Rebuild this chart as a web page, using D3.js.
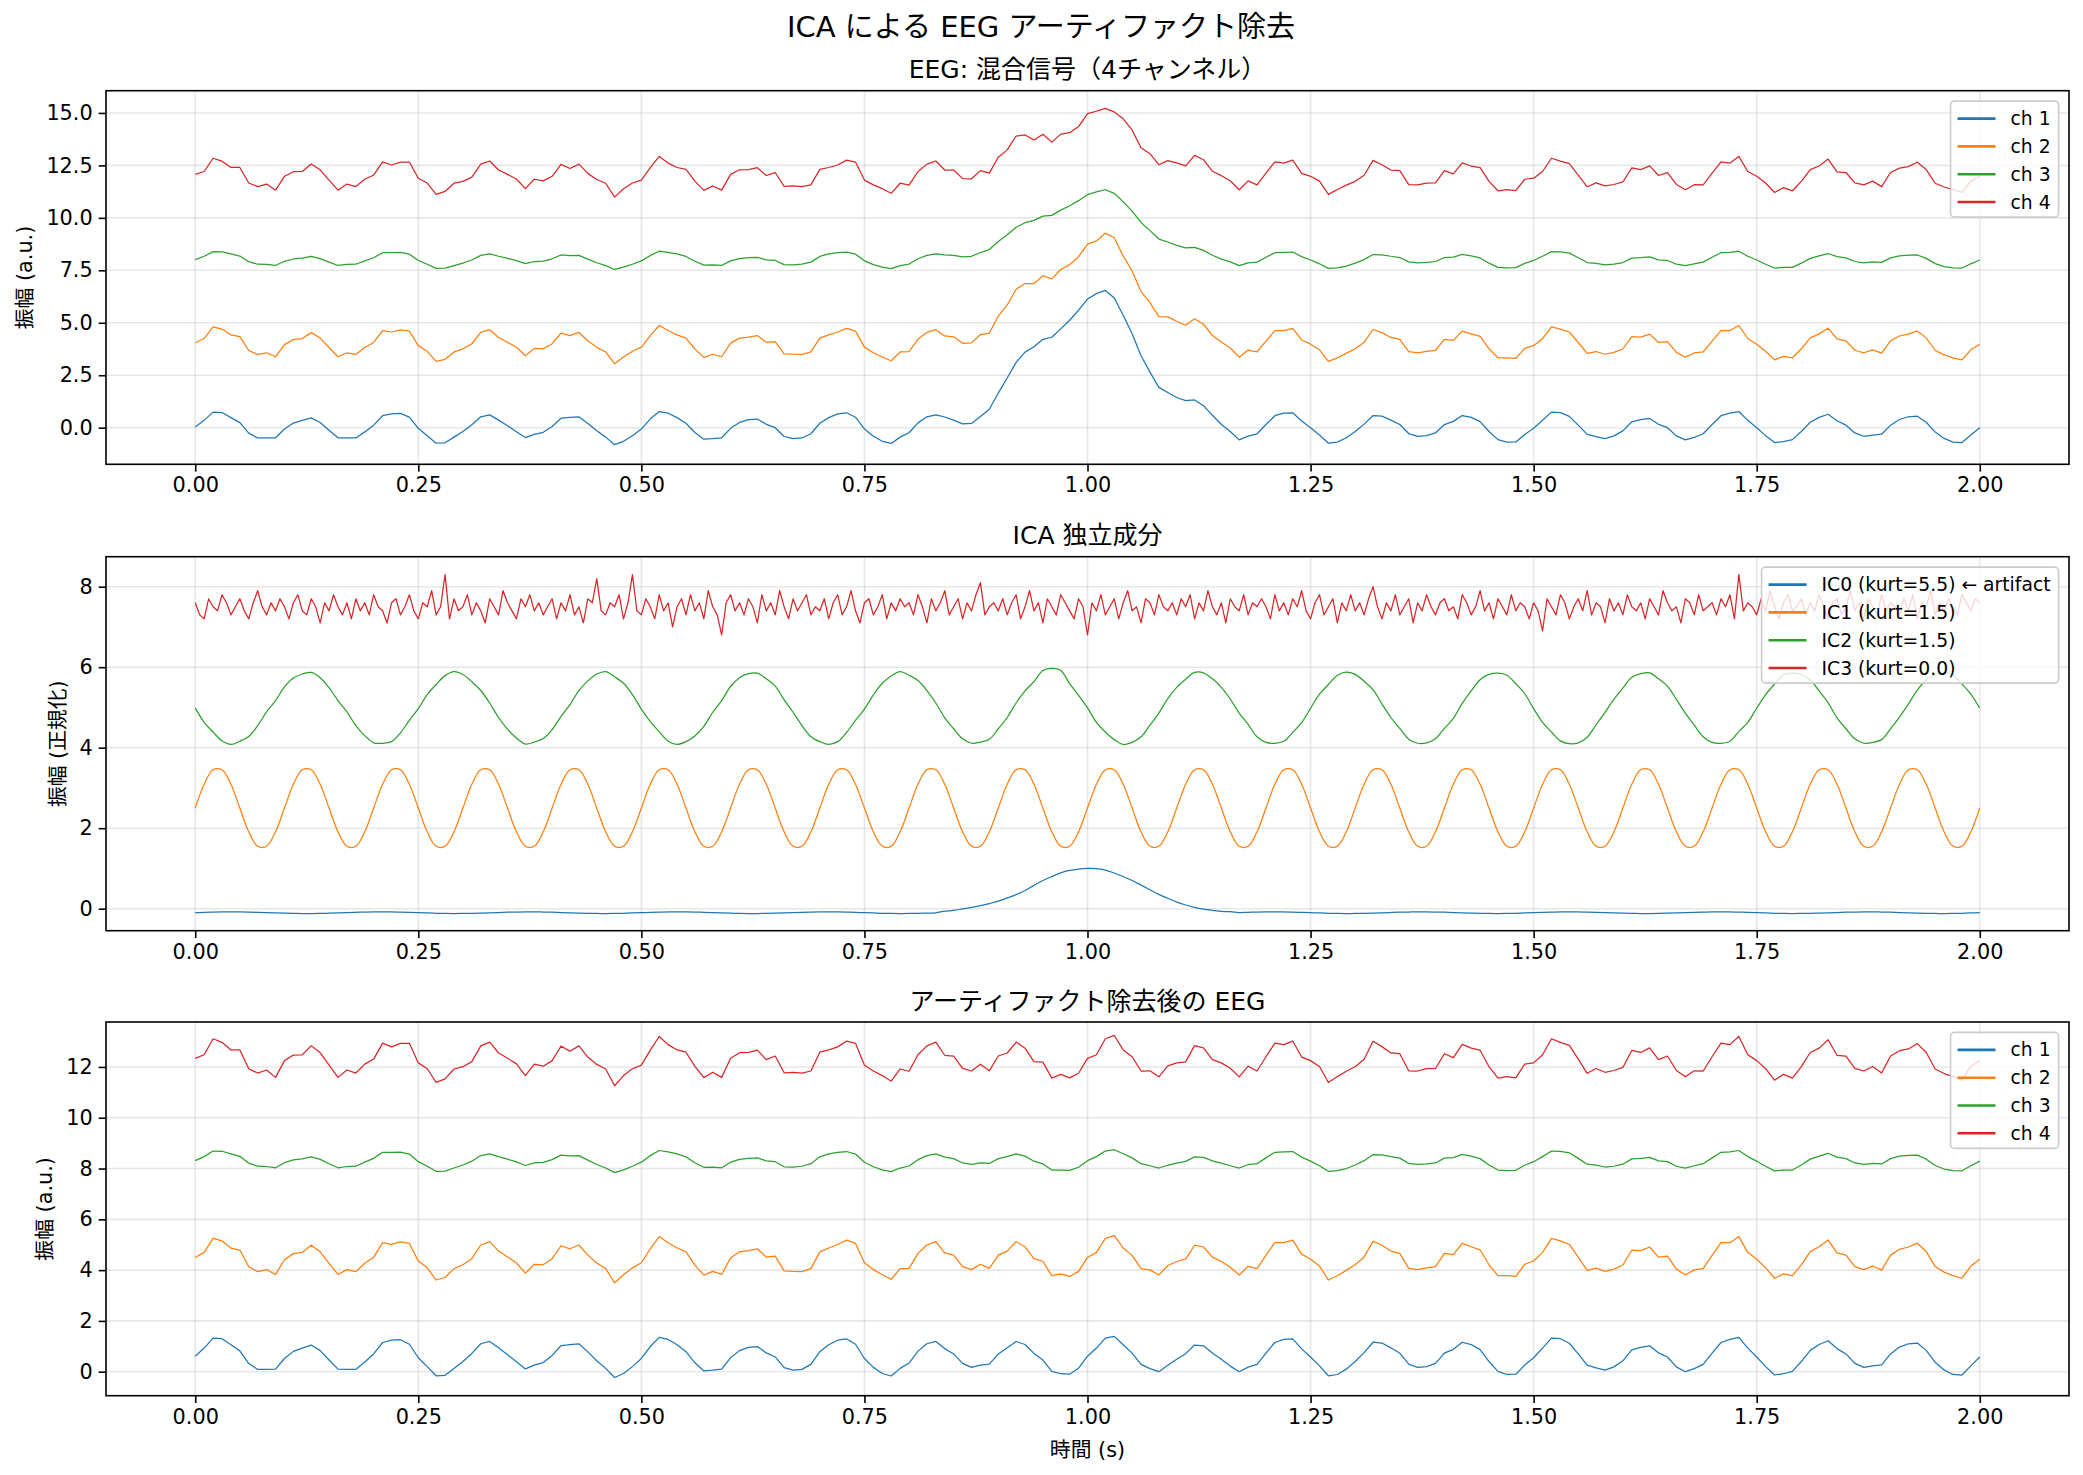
<!DOCTYPE html>
<html><head><meta charset="utf-8">
<script src="https://cdn.jsdelivr.net/npm/d3@7"></script>
<style>
body{margin:0;background:#fff}
svg{display:block}
text{font-family:"DejaVu Sans","Noto Sans CJK JP",sans-serif}
</style>
</head><body>
<svg id="chart" width="2083" height="1475"></svg>
<script>
// ---------------- data (sampling step 0.01 s, t = 0 ... 2.00) ----------------
const dt = 0.01;
const dtIC3 = 0.005;

const rawCh1 = [
.03,.35,.74,.72,.48,.24,-.26,-.49,-.49,-.48,
-.06,.22,.35,.47,.25,-.12,-.48,-.49,-.49,-.20,
.12,.57,.66,.68,.50,-.03,-.38,-.74,-.72,-.45,
-.18,.14,.52,.61,.36,.09,-.19,-.47,-.32,-.22,
.06,.45,.49,.52,.20,-.15,-.45,-.81,-.65,-.38,
-.06,.41,.77,.69,.48,.21,-.23,-.55,-.52,-.48,
-.03,.25,.38,.41,.16,0,-.42,-.52,-.49,-.29,
.21,.48,.66,.71,.50,-.06,-.41,-.65,-.75,-.45,
-.24,.23,.52,.61,.51,.36,.18,.20,.53,.88,
1.65,2.37,3.11,3.60,3.86,4.21,4.31,4.71,5.12,5.60,
6.13,6.39,6.54,6.18,5.36,4.48,3.43,2.65,1.92,1.68,
1.44,1.29,1.32,1.05,.59,.15,-.18,-.58,-.40,-.29,
.15,.57,.69,.71,.32,0,-.35,-.74,-.69,-.48,
-.18,.17,.58,.55,.36,.15,-.28,-.41,-.38,-.25,
.15,.30,.58,.49,.29,-.18,-.57,-.69,-.68,-.32,
-.03,.35,.74,.72,.54,.12,-.32,-.43,-.52,-.39,
-.15,.28,.38,.44,.16,0,-.39,-.58,-.46,-.29,
.15,.57,.69,.77,.35,0,-.38,-.71,-.66,-.57,
-.18,.26,.49,.64,.33,.12,-.25,-.41,-.35,-.31,
.12,.39,.52,.55,.26,-.21,-.51,-.69,-.71,-.35,
0];

const rawCh2 = [
4.05,4.25,4.80,4.70,4.42,4.34,3.68,3.49,3.57,3.38,
3.96,4.20,4.25,4.53,4.27,3.82,3.38,3.57,3.49,3.82,
4.06,4.63,4.56,4.66,4.60,3.91,3.64,3.16,3.26,3.61,
3.76,4.00,4.54,4.67,4.30,4.07,3.83,3.43,3.78,3.76,
4.00,4.51,4.39,4.54,4.14,3.83,3.61,3.05,3.37,3.64,
3.84,4.39,4.87,4.63,4.42,4.27,3.75,3.35,3.50,3.38,
4.03,4.27,4.32,4.39,4.06,4.10,3.52,3.50,3.49,3.61,
4.27,4.42,4.56,4.73,4.60,3.84,3.57,3.37,3.19,3.61,
3.62,4.21,4.54,4.67,4.37,4.33,4.02,4.04,4.44,4.51,
5.32,5.85,6.60,6.87,6.87,7.24,7.09,7.54,7.77,8.15,
8.75,8.90,9.27,9.05,8.18,7.47,6.48,5.96,5.29,5.28,
5.07,4.88,5.19,4.93,4.39,4.08,3.80,3.36,3.70,3.61,
4.13,4.63,4.63,4.73,4.18,3.98,3.71,3.16,3.33,3.54,
3.76,4.07,4.68,4.53,4.30,4.21,3.62,3.57,3.64,3.69,
4.21,4.16,4.60,4.47,4.35,3.76,3.33,3.33,3.30,3.78,
3.91,4.25,4.80,4.70,4.56,4.06,3.54,3.63,3.50,3.59,
3.75,4.34,4.32,4.46,4.06,4.10,3.59,3.36,3.56,3.61,
4.13,4.63,4.63,4.87,4.25,3.98,3.64,3.23,3.40,3.33,
3.76,4.28,4.47,4.74,4.23,4.14,3.69,3.57,3.71,3.55,
4.14,4.37,4.46,4.61,4.28,3.69,3.47,3.33,3.23,3.71,
3.98];

const rawCh3 = [
8.01,8.17,8.39,8.38,8.28,8.18,7.91,7.79,7.78,7.73,
7.93,8.04,8.08,8.16,8.06,7.89,7.73,7.78,7.79,7.95,
8.10,8.34,8.34,8.35,8.27,7.97,7.79,7.59,7.60,7.72,
7.84,7.99,8.21,8.28,8.17,8.07,7.96,7.82,7.92,7.94,
8.05,8.23,8.20,8.21,8.03,7.86,7.72,7.54,7.65,7.79,
7.95,8.21,8.41,8.36,8.28,8.16,7.93,7.75,7.76,7.73,
7.95,8.06,8.10,8.12,8.00,7.97,7.77,7.76,7.79,7.89,
8.16,8.28,8.34,8.37,8.27,7.95,7.77,7.65,7.58,7.72,
7.80,8.05,8.21,8.28,8.24,8.21,8.14,8.17,8.35,8.49,
8.87,9.19,9.55,9.77,9.88,10.08,10.12,10.37,10.58,10.82,
11.11,11.24,11.34,11.17,10.76,10.32,9.78,9.39,8.99,8.85,
8.69,8.57,8.59,8.45,8.22,8.03,7.90,7.72,7.85,7.89,
8.12,8.34,8.36,8.37,8.15,7.99,7.81,7.59,7.62,7.70,
7.84,8.01,8.25,8.24,8.17,8.11,7.90,7.86,7.88,7.92,
8.11,8.13,8.26,8.19,8.09,7.84,7.64,7.62,7.63,7.83,
7.97,8.17,8.39,8.38,8.32,8.10,7.87,7.83,7.76,7.79,
7.87,8.08,8.10,8.14,8.00,7.97,7.79,7.72,7.81,7.89,
8.12,8.34,8.36,8.41,8.17,7.99,7.79,7.61,7.64,7.64,
7.84,8.07,8.19,8.30,8.15,8.09,7.92,7.86,7.90,7.88,
8.09,8.19,8.22,8.23,8.07,7.82,7.68,7.62,7.61,7.81,
7.99];

const rawCh4 = [
12.07,12.21,12.84,12.70,12.40,12.40,11.66,11.49,11.61,11.32,
11.98,12.20,12.21,12.57,12.29,11.80,11.32,11.61,11.49,11.84,
12.04,12.67,12.52,12.66,12.66,11.89,11.66,11.12,11.26,11.65,
11.74,11.94,12.56,12.71,12.28,12.07,11.85,11.39,11.84,11.76,
11.98,12.55,12.35,12.56,12.12,11.83,11.65,10.99,11.39,11.66,
11.80,12.39,12.93,12.61,12.40,12.31,11.75,11.31,11.52,11.32,
12.07,12.29,12.30,12.39,12.02,12.16,11.50,11.52,11.49,11.57,
12.31,12.40,12.52,12.75,12.66,11.80,11.57,11.39,11.17,11.65,
11.56,12.21,12.56,12.71,12.28,12.28,11.87,11.86,12.25,12.13,
12.89,13.24,13.90,13.95,13.71,13.98,13.61,13.99,14.06,14.35,
14.97,15.08,15.22,15.05,14.72,14.19,13.34,13.06,12.53,12.73,
12.62,12.48,12.98,12.77,12.22,12.01,11.77,11.34,11.76,11.57,
12.13,12.67,12.61,12.75,12.12,11.98,11.75,11.12,11.35,11.56,
11.74,12.03,12.74,12.53,12.28,12.25,11.58,11.57,11.66,11.67,
12.25,12.10,12.62,12.47,12.39,11.74,11.29,11.35,11.30,11.84,
11.89,12.21,12.84,12.70,12.58,12.04,11.48,11.67,11.52,11.59,
11.71,12.38,12.30,12.48,12.02,12.16,11.59,11.34,11.58,11.57,
12.13,12.67,12.61,12.93,12.21,11.98,11.66,11.21,11.44,11.29,
11.74,12.30,12.47,12.80,12.19,12.16,11.67,11.57,11.75,11.49,
12.16,12.37,12.44,12.65,12.30,11.65,11.47,11.35,11.21,11.75,
11.98];

const ic0 = [
-.100,-.093,-.086,-.082,-.080,-.081,-.085,-.090,-.097,-.105,
-.112,-.117,-.120,-.120,-.117,-.112,-.105,-.097,-.090,-.085,
-.081,-.080,-.082,-.086,-.093,-.100,-.107,-.114,-.118,-.120,
-.119,-.115,-.110,-.103,-.095,-.088,-.083,-.080,-.080,-.083,
-.088,-.095,-.103,-.110,-.115,-.119,-.120,-.118,-.114,-.107,
-.100,-.093,-.086,-.082,-.080,-.081,-.085,-.090,-.097,-.105,
-.112,-.117,-.120,-.120,-.117,-.112,-.105,-.097,-.090,-.085,
-.081,-.080,-.082,-.086,-.093,-.100,-.107,-.114,-.118,-.120,
-.119,-.115,-.110,-.103,-.062,-.044,-.006,.030,.074,.126,
.187,.268,.348,.451,.580,.700,.800,.890,.950,.982,
1.000,.996,.959,.886,.800,.700,.586,.471,.354,.258,
.163,.092,.034,-.010,-.040,-.068,-.072,-.097,-.090,-.085,
-.081,-.080,-.082,-.086,-.093,-.100,-.107,-.114,-.118,-.120,
-.119,-.115,-.110,-.103,-.095,-.088,-.083,-.080,-.080,-.083,
-.088,-.095,-.103,-.110,-.115,-.119,-.120,-.118,-.114,-.107,
-.100,-.093,-.086,-.082,-.080,-.081,-.085,-.090,-.097,-.105,
-.112,-.117,-.120,-.120,-.117,-.112,-.105,-.097,-.090,-.085,
-.081,-.080,-.082,-.086,-.093,-.100,-.107,-.114,-.118,-.120,
-.119,-.115,-.110,-.103,-.095,-.088,-.083,-.080,-.080,-.083,
-.088,-.095,-.103,-.110,-.115,-.119,-.120,-.118,-.114,-.107,
-.100];

const ic1 = [
2.5,3.09,3.45,3.45,3.09,2.5,1.91,1.55,1.55,1.91,
2.5,3.09,3.45,3.45,3.09,2.5,1.91,1.55,1.55,1.91,
2.5,3.09,3.45,3.45,3.09,2.5,1.91,1.55,1.55,1.91,
2.5,3.09,3.45,3.45,3.09,2.5,1.91,1.55,1.55,1.91,
2.5,3.09,3.45,3.45,3.09,2.5,1.91,1.55,1.55,1.91,
2.5,3.09,3.45,3.45,3.09,2.5,1.91,1.55,1.55,1.91,
2.5,3.09,3.45,3.45,3.09,2.5,1.91,1.55,1.55,1.91,
2.5,3.09,3.45,3.45,3.09,2.5,1.91,1.55,1.55,1.91,
2.5,3.09,3.45,3.45,3.09,2.5,1.91,1.55,1.55,1.91,
2.5,3.09,3.45,3.45,3.09,2.5,1.91,1.55,1.55,1.91,
2.5,3.09,3.45,3.45,3.09,2.5,1.91,1.55,1.55,1.91,
2.5,3.09,3.45,3.45,3.09,2.5,1.91,1.55,1.55,1.91,
2.5,3.09,3.45,3.45,3.09,2.5,1.91,1.55,1.55,1.91,
2.5,3.09,3.45,3.45,3.09,2.5,1.91,1.55,1.55,1.91,
2.5,3.09,3.45,3.45,3.09,2.5,1.91,1.55,1.55,1.91,
2.5,3.09,3.45,3.45,3.09,2.5,1.91,1.55,1.55,1.91,
2.5,3.09,3.45,3.45,3.09,2.5,1.91,1.55,1.55,1.91,
2.5,3.09,3.45,3.45,3.09,2.5,1.91,1.55,1.55,1.91,
2.5,3.09,3.45,3.45,3.09,2.5,1.91,1.55,1.55,1.91,
2.5,3.09,3.45,3.45,3.09,2.5,1.91,1.55,1.55,1.91,
2.5];

const ic2 = [
4.99,4.63,4.39,4.17,4.08,4.16,4.28,4.55,4.89,5.17,
5.51,5.73,5.83,5.87,5.74,5.49,5.17,4.89,4.55,4.30,
4.12,4.11,4.15,4.37,4.68,4.97,5.32,5.57,5.79,5.89,
5.82,5.64,5.42,5.11,4.75,4.46,4.24,4.09,4.14,4.23,
4.45,4.78,5.07,5.42,5.66,5.83,5.89,5.76,5.60,5.32,
4.96,4.65,4.40,4.16,4.08,4.15,4.29,4.53,4.88,5.17,
5.52,5.74,5.84,5.85,5.71,5.53,5.19,4.88,4.55,4.27,
4.15,4.08,4.15,4.38,4.68,4.96,5.31,5.60,5.78,5.89,
5.80,5.67,5.42,5.11,4.74,4.47,4.22,4.11,4.14,4.21,
4.47,4.75,5.11,5.41,5.64,5.92,5.97,5.92,5.59,5.30,
4.99,4.63,4.39,4.20,4.08,4.13,4.27,4.56,4.86,5.22,
5.50,5.70,5.87,5.86,5.71,5.50,5.21,4.86,4.58,4.27,
4.13,4.11,4.16,4.38,4.62,4.98,5.33,5.57,5.80,5.88,
5.82,5.65,5.44,5.09,4.75,4.48,4.21,4.11,4.12,4.22,
4.48,4.73,5.10,5.41,5.69,5.82,5.85,5.80,5.59,5.34,
4.97,4.63,4.39,4.17,4.10,4.12,4.26,4.57,4.88,5.20,
5.48,5.75,5.84,5.86,5.71,5.53,5.20,4.86,4.56,4.27,
4.13,4.11,4.16,4.40,4.63,4.98,5.32,5.58,5.81,5.85,
5.82,5.68,5.41,5.12,4.74,4.47,4.22,4.11,4.13,4.20,
4.47,4.76,5.08,5.43,5.68,5.81,5.87,5.80,5.58,5.33,
4.98];

// IC3 is sampled at 0.005 s (401 points)
const ic3 = [
7.6,7.3,7.2,7.7,7.5,7.4,7.8,7.6,7.3,7.5,7.7,7.4,7.2,7.6,7.9,7.5,7.3,7.6,7.4,7.7,
7.5,7.2,7.6,7.8,7.4,7.3,7.7,7.5,7.1,7.6,7.4,7.8,7.5,7.3,7.6,7.2,7.7,7.4,7.6,7.3,
7.8,7.5,7.4,7.1,7.6,7.7,7.3,7.5,7.8,7.4,7.2,7.6,7.5,7.9,7.3,7.5,8.3,7.2,7.7,7.4,
7.5,7.8,7.3,7.6,7.4,7.1,7.7,7.5,7.3,7.9,7.6,7.4,7.2,7.7,7.5,7.8,7.4,7.6,7.3,7.5,
7.7,7.2,7.6,7.4,7.8,7.3,7.5,7.1,7.7,7.6,8.2,7.4,7.3,7.6,7.5,7.8,7.2,7.6,8.3,7.4,
7.3,7.7,7.5,7.2,7.8,7.4,7.6,7.0,7.5,7.7,7.3,7.8,7.4,7.6,7.2,7.9,7.5,7.3,6.8,7.6,
7.8,7.4,7.6,7.3,7.7,7.5,7.1,7.8,7.4,7.6,7.3,7.9,7.5,7.2,7.7,7.4,7.6,7.8,7.3,7.5,
7.4,7.7,7.2,7.6,7.8,7.3,7.5,7.9,7.4,7.1,7.6,7.7,7.3,7.5,7.8,7.2,7.6,7.4,7.7,7.5,
7.6,7.3,7.8,7.5,7.1,7.7,7.4,7.6,7.9,7.3,7.5,7.7,7.2,7.6,7.4,7.8,8.1,7.3,7.5,7.6,
7.4,7.7,7.3,7.6,7.8,7.2,7.5,7.9,7.4,7.6,7.1,7.7,7.5,7.3,7.8,7.6,7.4,7.2,7.7,7.5,
6.8,7.6,7.4,7.8,7.3,7.5,7.7,7.2,7.6,7.9,7.4,7.5,7.1,7.7,7.6,7.3,7.8,7.5,7.4,7.6,
7.3,7.7,7.5,7.8,7.2,7.6,7.4,7.9,7.5,7.3,7.6,7.1,7.7,7.5,7.4,7.8,7.3,7.6,7.5,7.7,
7.5,7.2,7.8,7.4,7.6,7.3,7.7,7.5,7.9,7.4,7.2,7.6,7.8,7.3,7.5,7.7,7.1,7.6,7.4,7.8,
7.4,7.6,7.3,7.7,8.0,7.5,7.2,7.6,7.4,7.8,7.3,7.5,7.7,7.1,7.6,7.4,7.8,7.5,7.3,7.6,
7.7,7.4,7.5,7.2,7.8,7.6,7.3,7.5,7.9,7.4,7.6,7.2,7.7,7.5,7.3,7.8,7.4,7.6,7.5,7.2,
7.6,7.4,6.9,7.7,7.5,7.3,7.8,7.6,7.2,7.5,7.7,7.4,7.9,7.3,7.6,7.5,7.1,7.7,7.4,7.6,
7.3,7.8,7.5,7.4,7.6,7.2,7.7,7.5,7.3,7.9,7.6,7.4,7.5,7.1,7.7,7.6,7.3,7.8,7.4,7.5,
7.6,7.3,7.7,7.5,7.8,7.2,8.3,7.4,7.6,7.5,7.3,7.7,7.4,7.9,7.5,7.2,7.6,7.8,7.4,7.5,
7.7,7.3,7.6,7.4,7.8,7.5,7.2,7.6,7.7,7.3,7.5,7.9,7.4,7.6,7.2,7.7,7.5,7.3,7.8,7.4,
7.6,7.5,7.3,7.7,7.4,7.8,7.2,7.6,7.5,7.9,7.3,7.6,7.4,7.7,7.5,7.3,7.8,7.6,7.4,7.7,
7.6];

const cleanCh1 = [
.61,.93,1.32,1.30,1.06,.82,.32,.09,.09,.10,
.52,.80,.93,1.05,.83,.46,.10,.09,.09,.38,
.70,1.15,1.24,1.26,1.08,.55,.20,-.16,-.14,.13,
.40,.72,1.10,1.19,.94,.67,.39,.11,.26,.36,
.64,1.03,1.07,1.10,.78,.43,.13,-.23,-.07,.20,
.52,.99,1.35,1.27,1.06,.79,.35,.03,.06,.10,
.55,.83,.96,.99,.74,.58,.16,.06,.09,.29,
.79,1.06,1.24,1.29,1.08,.52,.17,-.07,-.17,.13,
.34,.81,1.10,1.19,.91,.70,.33,.17,.26,.30,
.70,.94,1.19,1.07,.72,.46,.01,-.08,-.10,.14,
.61,.93,1.32,1.39,1.06,.73,.29,.12,0,.25,
.49,.71,1.05,1.02,.74,.49,.22,0,.18,.29,
.73,1.15,1.27,1.29,.90,.58,.23,-.16,-.11,.10,
.40,.75,1.16,1.13,.94,.73,.30,.17,.20,.33,
.73,.88,1.16,1.07,.87,.40,.01,-.11,-.10,.26,
.55,.93,1.32,1.30,1.12,.70,.26,.15,.06,.19,
.43,.86,.96,1.02,.74,.58,.19,0,.12,.29,
.73,1.15,1.27,1.35,.93,.58,.20,-.13,-.08,.01,
.40,.84,1.07,1.22,.91,.70,.33,.17,.23,.27,
.70,.97,1.10,1.13,.84,.37,.07,-.11,-.13,.23,
.58];

const cleanCh2 = [
4.50,4.70,5.25,5.15,4.87,4.79,4.13,3.94,4.02,3.83,
4.41,4.65,4.70,4.98,4.72,4.27,3.83,4.02,3.94,4.27,
4.51,5.08,5.01,5.11,5.05,4.36,4.09,3.61,3.71,4.06,
4.21,4.45,4.99,5.12,4.75,4.52,4.28,3.88,4.23,4.21,
4.45,4.96,4.84,4.99,4.59,4.28,4.06,3.50,3.82,4.09,
4.29,4.84,5.32,5.08,4.87,4.72,4.20,3.80,3.95,3.83,
4.48,4.72,4.77,4.84,4.51,4.55,3.97,3.95,3.94,4.06,
4.72,4.87,5.01,5.18,5.05,4.29,4.02,3.82,3.64,4.06,
4.07,4.66,4.99,5.12,4.68,4.59,4.14,4.02,4.23,4.07,
4.59,4.75,5.12,4.92,4.45,4.35,3.78,3.85,3.75,3.95,
4.50,4.70,5.25,5.36,4.87,4.58,4.06,4.01,3.81,4.18,
4.34,4.44,4.98,4.91,4.51,4.34,4.11,3.81,4.15,4.06,
4.58,5.08,5.08,5.18,4.63,4.43,4.16,3.61,3.78,3.99,
4.21,4.52,5.13,4.98,4.75,4.66,4.07,4.02,4.09,4.14,
4.66,4.61,5.05,4.92,4.80,4.21,3.78,3.78,3.75,4.23,
4.36,4.70,5.25,5.15,5.01,4.51,3.99,4.08,3.95,4.04,
4.20,4.79,4.77,4.91,4.51,4.55,4.04,3.81,4.01,4.06,
4.58,5.08,5.08,5.32,4.70,4.43,4.09,3.68,3.85,3.78,
4.21,4.73,4.92,5.19,4.68,4.59,4.14,4.02,4.16,4.00,
4.59,4.82,4.91,5.06,4.73,4.14,3.92,3.78,3.68,4.16,
4.43];

const cleanCh3 = [
8.31,8.47,8.69,8.68,8.58,8.48,8.21,8.09,8.08,8.03,
8.23,8.34,8.38,8.46,8.36,8.19,8.03,8.08,8.09,8.25,
8.40,8.64,8.64,8.65,8.57,8.27,8.09,7.89,7.90,8.02,
8.14,8.29,8.51,8.58,8.47,8.37,8.26,8.12,8.22,8.24,
8.35,8.53,8.50,8.51,8.33,8.16,8.02,7.84,7.95,8.09,
8.25,8.51,8.71,8.66,8.58,8.46,8.23,8.05,8.06,8.03,
8.25,8.36,8.40,8.42,8.30,8.27,8.07,8.06,8.09,8.19,
8.46,8.58,8.64,8.67,8.57,8.25,8.07,7.95,7.88,8.02,
8.10,8.35,8.51,8.58,8.45,8.39,8.22,8.16,8.22,8.20,
8.39,8.47,8.58,8.49,8.29,8.18,7.94,7.94,7.93,8.05,
8.31,8.47,8.69,8.74,8.58,8.42,8.19,8.11,8.02,8.13,
8.21,8.28,8.46,8.44,8.30,8.21,8.11,8.02,8.15,8.19,
8.42,8.64,8.66,8.67,8.45,8.29,8.11,7.89,7.92,8.00,
8.14,8.31,8.55,8.54,8.47,8.41,8.20,8.16,8.18,8.22,
8.41,8.43,8.56,8.49,8.39,8.14,7.94,7.92,7.93,8.13,
8.27,8.47,8.69,8.68,8.62,8.40,8.17,8.13,8.06,8.09,
8.17,8.38,8.40,8.44,8.30,8.27,8.09,8.02,8.11,8.19,
8.42,8.64,8.66,8.71,8.47,8.29,8.09,7.91,7.94,7.94,
8.14,8.37,8.49,8.60,8.45,8.39,8.22,8.16,8.20,8.18,
8.39,8.49,8.52,8.53,8.37,8.12,7.98,7.92,7.91,8.11,
8.29];

const cleanCh4 = [
12.34,12.48,13.11,12.97,12.67,12.67,11.93,11.76,11.88,11.59,
12.25,12.47,12.48,12.84,12.56,12.07,11.59,11.88,11.76,12.11,
12.31,12.94,12.79,12.93,12.93,12.16,11.93,11.39,11.53,11.92,
12.01,12.21,12.83,12.98,12.55,12.34,12.12,11.66,12.11,12.03,
12.25,12.82,12.62,12.83,12.39,12.10,11.92,11.26,11.66,11.93,
12.07,12.66,13.20,12.88,12.67,12.58,12.02,11.58,11.79,11.59,
12.34,12.56,12.57,12.66,12.29,12.43,11.77,11.79,11.76,11.84,
12.58,12.67,12.79,13.02,12.93,12.07,11.84,11.66,11.44,11.92,
11.83,12.48,12.83,12.98,12.46,12.43,11.94,11.84,12.11,11.85,
12.43,12.55,12.98,12.74,12.21,12.19,11.56,11.71,11.57,11.75,
12.34,12.48,13.11,13.24,12.67,12.40,11.84,11.85,11.61,12.04,
12.16,12.20,12.84,12.75,12.29,12.16,11.95,11.61,12.03,11.84,
12.40,12.94,12.88,13.02,12.39,12.25,12.02,11.39,11.62,11.83,
12.01,12.30,13.01,12.80,12.55,12.52,11.85,11.84,11.93,11.94,
12.52,12.37,12.89,12.74,12.66,12.01,11.56,11.62,11.57,12.11,
12.16,12.48,13.11,12.97,12.85,12.31,11.75,11.94,11.79,11.86,
11.98,12.65,12.57,12.75,12.29,12.43,11.86,11.61,11.85,11.84,
12.40,12.94,12.88,13.20,12.48,12.25,11.93,11.48,11.71,11.56,
12.01,12.57,12.74,13.07,12.46,12.43,11.94,11.84,12.02,11.76,
12.43,12.64,12.71,12.92,12.57,11.92,11.74,11.62,11.48,12.02,
12.25];

const chLabels = ["ch 1", "ch 2", "ch 3", "ch 4"];
const icLabels = ["IC0 (kurt=5.5) ← artifact", "IC1 (kurt=1.5)", "IC2 (kurt=1.5)", "IC3 (kurt=0.0)"];
const xTicks = [0, 0.25, 0.5, 0.75, 1.0, 1.25, 1.5, 1.75, 2.0];
const yTicksRaw = [0, 2.5, 5, 7.5, 10, 12.5, 15];
const yTicksIC = [0, 2, 4, 6, 8];
const yTicksClean = [0, 2, 4, 6, 8, 10, 12];
const colors = ["#1f77b4", "#ff7f0e", "#2ca02c", "#d62728"];
const suptitle = "ICA による EEG アーティファクト除去";
const titles = ["EEG: 混合信号（4チャンネル）", "ICA 独立成分", "アーティファクト除去後の EEG"];
const yLabels = ["振幅 (a.u.)", "振幅 (正規化)", "振幅 (a.u.)"];
const xLabel = "時間 (s)";

// ---------------- drawing ----------------
const svg = d3.select("#chart");
svg.append("rect").attr("width", 2083).attr("height", 1475).attr("fill", "#fff");

const AX_L = 106, AX_R = 2069;
const x = d3.scaleLinear().domain([-0.1, 2.1]).range([AX_L, AX_R]);

const panels = [
  {top: 90.7, bottom: 464.3, ydom: [-1.745, 16.06], yticks: yTicksRaw, yfmt: d3.format(".1f"),
   data: [rawCh1, rawCh2, rawCh3, rawCh4], steps: [dt, dt, dt, dt], labels: chLabels,
   smooth: [false, false, false, false], title: titles[0], ylabel: yLabels[0], ylabelX: 32},
  {top: 556.7, bottom: 930.7, ydom: [-0.547, 8.745], yticks: yTicksIC, yfmt: d3.format("d"),
   data: [ic0, ic1, ic2, ic3], steps: [dt, dt, dt, dtIC3], labels: icLabels,
   smooth: [true, true, true, false], title: titles[1], ylabel: yLabels[1], ylabelX: 65},
  {top: 1022, bottom: 1395.7, ydom: [-0.945, 13.77], yticks: yTicksClean, yfmt: d3.format("d"),
   data: [cleanCh1, cleanCh2, cleanCh3, cleanCh4], steps: [dt, dt, dt, dt], labels: chLabels,
   smooth: [false, false, false, false], title: titles[2], ylabel: yLabels[2], ylabelX: 51.5, xlabel: true}
];

svg.append("text").attr("x", 1041).attr("y", 37).attr("text-anchor", "middle")
  .attr("font-size", 29).attr("fill", "#000").text(suptitle);

panels.forEach((p, pi) => {
  const y = d3.scaleLinear().domain(p.ydom).range([p.bottom, p.top]);
  const g = svg.append("g");

  // grid
  const grid = g.append("g").attr("stroke", "#b0b0b0").attr("stroke-opacity", 0.3).attr("stroke-width", 1.6);
  xTicks.forEach(t => grid.append("line").attr("x1", x(t)).attr("x2", x(t)).attr("y1", p.top).attr("y2", p.bottom));
  p.yticks.forEach(t => grid.append("line").attr("x1", AX_L).attr("x2", AX_R).attr("y1", y(t)).attr("y2", y(t)));

  // clip
  const cid = "clip" + pi;
  svg.append("clipPath").attr("id", cid).append("rect")
    .attr("x", AX_L).attr("y", p.top).attr("width", AX_R - AX_L).attr("height", p.bottom - p.top);

  const lines = g.append("g").attr("clip-path", `url(#${cid})`);
  p.data.forEach((arr, si) => {
    const step = p.steps[si];
    const line = d3.line().x((d, i) => x(i * step)).y(d => y(d))
      .curve(p.smooth[si] ? d3.curveCatmullRom.alpha(0.5) : d3.curveLinear);
    lines.append("path").datum(arr).attr("d", line).attr("fill", "none")
      .attr("stroke", colors[si]).attr("stroke-width", 1.25).attr("stroke-linejoin", "round");
  });

  // axes
  const xa = g.append("g").attr("transform", `translate(0,${p.bottom})`)
    .call(d3.axisBottom(x).tickValues(xTicks).tickFormat(d3.format(".2f")).tickSize(7.3).tickPadding(6).tickSizeOuter(0));
  const ya = g.append("g").attr("transform", `translate(${AX_L},0)`)
    .call(d3.axisLeft(y).tickValues(p.yticks).tickFormat(p.yfmt).tickSize(7.3).tickPadding(6).tickSizeOuter(0));
  [xa, ya].forEach(a => {
    a.select(".domain").remove();
    a.attr("font-family", null).attr("font-size", null);
    a.selectAll(".tick line").attr("stroke", "#000").attr("stroke-width", 1.6);
    a.selectAll(".tick text").attr("fill", "#000").attr("font-size", 20.8);
  });

  // spines
  g.append("rect").attr("x", AX_L).attr("y", p.top).attr("width", AX_R - AX_L).attr("height", p.bottom - p.top)
    .attr("fill", "none").attr("stroke", "#000").attr("stroke-width", 1.6);

  // title
  g.append("text").attr("x", (AX_L + AX_R) / 2).attr("y", p.top - 12.5).attr("text-anchor", "middle")
    .attr("font-size", 25).attr("fill", "#000").text(p.title);

  // y label
  const cy = (p.top + p.bottom) / 2;
  g.append("text").attr("transform", `translate(${p.ylabelX},${cy}) rotate(-90)`)
    .attr("text-anchor", "middle").attr("font-size", 20.8).attr("fill", "#000").text(p.ylabel);

  if (p.xlabel) {
    g.append("text").attr("x", (AX_L + AX_R) / 2).attr("y", 1457).attr("text-anchor", "middle")
      .attr("font-size", 20.8).attr("fill", "#000").text(xLabel);
  }

  // legend
  const lg = g.append("g");
  const boxTop = p.top + 10.4;
  const box = lg.append("rect");
  let maxW = 0;
  p.labels.forEach((lab, li) => {
    const ry = boxTop + 17.5 + li * 27.8;
    lg.append("line").attr("stroke", colors[li]).attr("stroke-width", 2.6);
    const tx = lg.append("text").attr("y", ry).attr("dy", "0.35em")
      .attr("font-size", 18.75).attr("fill", "#000").text(lab);
    maxW = Math.max(maxW, tx.node().getComputedTextLength());
  });
  const boxW = 60 + maxW + 8;
  const boxL = AX_R - 10.4 - boxW;
  box.attr("x", boxL).attr("y", boxTop).attr("width", boxW).attr("height", 116)
    .attr("rx", 4).attr("fill", "#fff").attr("fill-opacity", 0.8)
    .attr("stroke", "#cccccc").attr("stroke-width", 1.6);
  lg.selectAll("line").each(function(d, li) {
    const ry = boxTop + 17.5 + li * 27.8;
    d3.select(this).attr("x1", boxL + 7).attr("x2", boxL + 45).attr("y1", ry).attr("y2", ry);
  });
  lg.selectAll("text").attr("x", boxL + 60);
});
</script>
</body></html>
